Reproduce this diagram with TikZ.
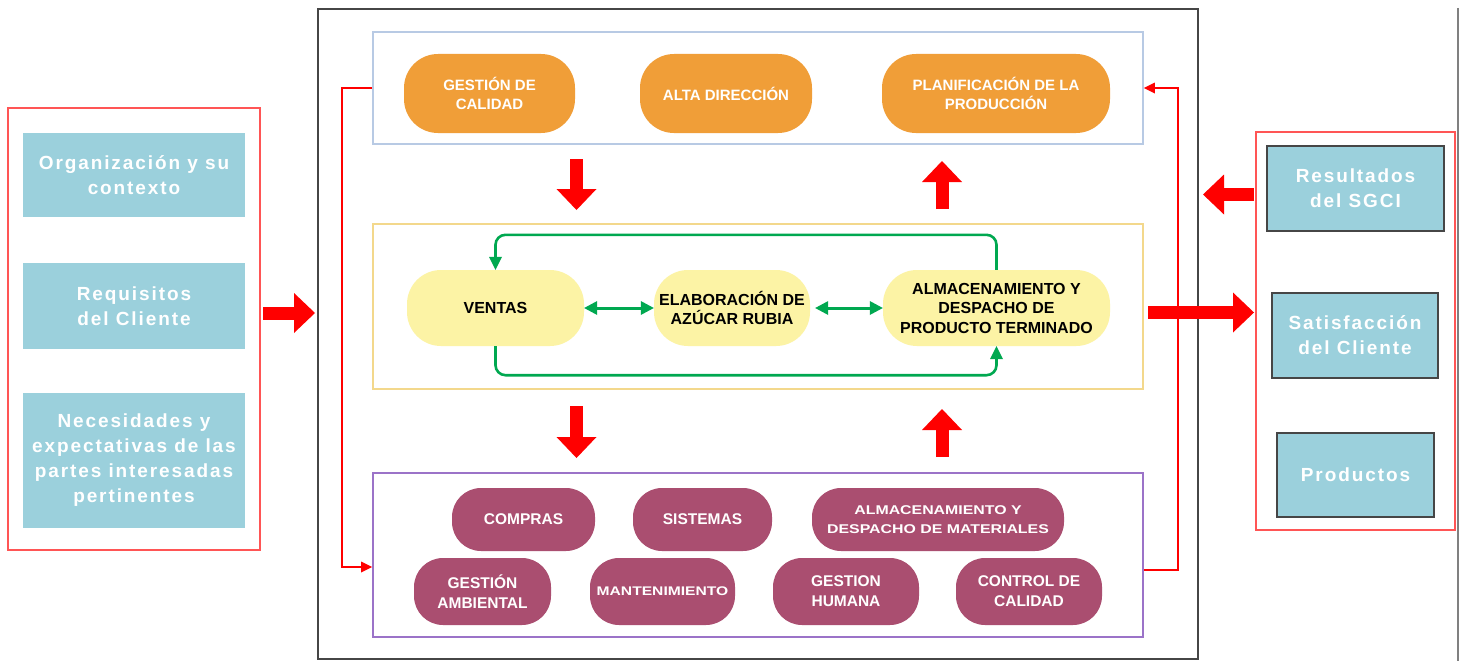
\documentclass[tikz,border=0pt]{standalone}
\usepackage{fontspec}
\setmainfont{Liberation Sans}
\newfontfamily\spacedfont[LetterSpace=10]{Liberation Sans}
\newfontfamily\widefont[FakeStretch=1.25]{Liberation Sans}
\usetikzlibrary{arrows.meta,calc}

\definecolor{boxteal}{RGB}{155,208,220}
\definecolor{pillorange}{RGB}{240,158,56}
\definecolor{pillyellow}{RGB}{252,243,165}
\definecolor{pillmaroon}{RGB}{170,78,112}
\definecolor{flowgreen}{RGB}{0,168,80}
\definecolor{topedge}{RGB}{184,202,228}
\definecolor{midedge}{RGB}{243,216,140}
\definecolor{botedge}{RGB}{155,115,200}
\definecolor{frameedge}{RGB}{70,70,70}
\definecolor{redframe}{RGB}{255,85,85}

\tikzset{
  panel/.style={draw, rectangle, inner sep=0pt, line width=1.6pt},
  tealbox/.style={rectangle, fill=boxteal, inner sep=0pt, align=center, text=white,
    font=\spacedfont\bfseries\fontsize{19}{25}\selectfont},
  tealframed/.style={tealbox, draw=frameedge, line width=1.4pt},
  pill/.style={rectangle, inner sep=0pt, align=center, rounded corners=34pt,
    font=\bfseries\fontsize{15}{19.5}\selectfont},
  orangepill/.style={pill, fill=pillorange, text=white},
  yellowpill/.style={pill, fill=pillyellow, text=black, font=\bfseries\fontsize{16}{19.5}\selectfont},
  maroonpill/.style={pill, rounded corners=29pt, fill=pillmaroon, text=white,
    font=\bfseries\fontsize{15.5}{20}\selectfont},
  bigred/.style={red, line width=13pt, -{Triangle[length=21pt,width=40pt,line width=0pt]}},
  thinred/.style={red, line width=2.4pt, -{Triangle[length=11pt,width=11pt,line width=0pt]}},
  greenflow/.style={flowgreen, line width=2.6pt, rounded corners=10pt,
    -{Triangle[length=13pt,width=13pt,line width=0pt]}},
  greenboth/.style={flowgreen, line width=3pt,
    {Triangle[length=13pt,width=14pt,line width=0pt]}-{Triangle[length=13pt,width=14pt,line width=0pt]}},
}

\begin{document}
\begin{tikzpicture}[x=1pt,y=-1pt]
\useasboundingbox (0,0) rectangle (1464,661);
\fill[white] (0,0) rectangle (1464,661);

% page edge on the right
\draw[gray, line width=1.8pt] (1458,8) -- (1458,661);

% central frame and its three layers
\node[panel, draw=frameedge, line width=2pt, minimum width=880pt, minimum height=650pt] (frame) at (758,334) {};
\node[panel, draw=topedge, minimum width=770pt, minimum height=112pt] (topbox) at (758,88) {};
\node[panel, draw=midedge, minimum width=770pt, minimum height=165pt] (midbox) at (758,306.5) {};
\node[panel, draw=botedge, minimum width=770pt, minimum height=164pt] (botbox) at (758,555) {};

% inputs
\node[panel, draw=redframe, minimum width=252pt, minimum height=442pt] (leftbox) at (134,329) {};
\node[tealbox, minimum width=222pt, minimum height=84pt] (in1) at (134,175) {Organización y su\\contexto};
\node[tealbox, minimum width=222pt, minimum height=86pt] (in2) at (134,306) {Requisitos\\del Cliente};
\node[tealbox, minimum width=222pt, minimum height=135pt] (in3) at (134,460.5) {Necesidades y\\expectativas de las\\partes interesadas\\pertinentes};

% outputs
\node[panel, draw=redframe, minimum width=199pt, minimum height=398pt] (rightbox) at (1355.5,331) {};
\node[tealframed, minimum width=177pt, minimum height=85pt] (out1) at (1355.5,188.5) {Resultados\\del SGCI};
\node[tealframed, minimum width=166pt, minimum height=85pt] (out2) at (1355,335.5) {Satisfacción\\del Cliente};
\node[tealframed, minimum width=157pt, minimum height=84pt] (out3) at (1355.5,475) {Productos};

% management layer
\node[orangepill, minimum width=171pt, minimum height=79pt] (p1) at (489.5,93.5) {GESTIÓN DE\\CALIDAD};
\node[orangepill, minimum width=172pt, minimum height=79pt] (p2) at (726,93.5) {ALTA DIRECCIÓN};
\node[orangepill, minimum width=228pt, minimum height=79pt] (p3) at (996,93.5) {PLANIFICACIÓN DE LA\\PRODUCCIÓN};

% core processes
\node[yellowpill, minimum width=177pt, minimum height=76pt] (v1) at (495.5,308) {VENTAS};
\node[yellowpill, minimum width=156pt, minimum height=76pt] (v2) at (732,308) {ELABORACIÓN DE\\AZÚCAR RUBIA};
\node[yellowpill, minimum width=227pt, minimum height=76pt] (v3) at (996.5,308) {ALMACENAMIENTO Y\\DESPACHO DE\\PRODUCTO TERMINADO};

% support processes
\node[maroonpill, minimum width=143pt, minimum height=63pt] (m1) at (523.5,519.5) {COMPRAS};
\node[maroonpill, minimum width=139pt, minimum height=63pt] (m2) at (702.5,519.5) {SISTEMAS};
\node[maroonpill, minimum width=252pt, minimum height=63pt, font=\widefont\bfseries\fontsize{12.7}{19}\selectfont] (m3) at (938,519.5) {ALMACENAMIENTO Y\\DESPACHO DE MATERIALES};
\node[maroonpill, minimum width=137pt, minimum height=67pt] (m4) at (482.5,591.5) {GESTIÓN\\AMBIENTAL};
\node[maroonpill, minimum width=145pt, minimum height=67pt, font=\widefont\bfseries\fontsize{12.5}{15}\selectfont] (m5) at (662.5,591.5) {MANTENIMIENTO};
\node[maroonpill, minimum width=146pt, minimum height=67pt] (m6) at (846,591.5) {GESTION\\HUMANA};
\node[maroonpill, minimum width=146pt, minimum height=67pt] (m7) at (1029,591.5) {CONTROL DE\\CALIDAD};

% flow between the core processes
\draw[greenboth] (v1.east) -- (v2.west);
\draw[greenboth] ($(v2.east)+(5,0)$) -- (v3.west);
\draw[greenflow] (v3.north) -- ++(0,-35) -| (v1.north);
\draw[greenflow] (v1.south) -- ++(0,29) -| (v3.south);

% feedback loop between management and support layers
\draw[thinred] (topbox.west) -- ++(-30,0) |- ($(botbox.west)+(0,12)$);
\draw[thinred] ($(botbox.east)+(0,15)$) -- ++(34,0) |- (topbox.east);

% block arrows
\coordinate (inA) at (263,313);   \coordinate (inB) at (315,313);
\coordinate (d1A) at (576.5,159); \coordinate (d1B) at (576.5,210);
\coordinate (u1A) at (942,209);   \coordinate (u1B) at (942,161);
\coordinate (d2A) at (576.5,406); \coordinate (d2B) at (576.5,458);
\coordinate (u2A) at (942,457);   \coordinate (u2B) at (942,409);
\coordinate (fbA) at (1254,194.5); \coordinate (fbB) at (1203,194.5);
\coordinate (outA) at (1148,312.5); \coordinate (outB) at (1254,312.5);
\draw[bigred] (inA) -- (inB);
\draw[bigred] (d1A) -- (d1B);
\draw[bigred] (u1A) -- (u1B);
\draw[bigred] (d2A) -- (d2B);
\draw[bigred] (u2A) -- (u2B);
\draw[bigred] (fbA) -- (fbB);
\draw[bigred] (outA) -- (outB);
\end{tikzpicture}
\end{document}
